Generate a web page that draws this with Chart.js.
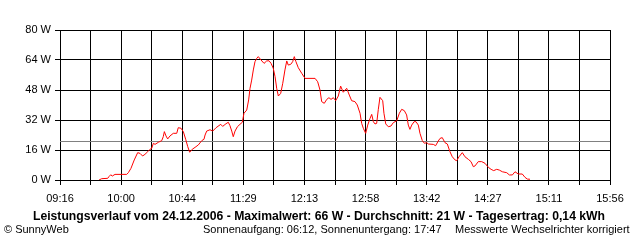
<!DOCTYPE html>
<html><head><meta charset="utf-8">
<script src="https://cdn.jsdelivr.net/npm/chart.js@4"></script>
<style>
html,body{margin:0;padding:0;background:#fff;}
#wrap{position:relative;width:640px;height:240px;overflow:hidden;}
canvas{position:absolute;left:0;top:0;}
.t{position:absolute;white-space:nowrap;font-family:"Liberation Sans",Arial,sans-serif;color:#000;}
#title{left:0;width:638px;text-align:center;top:209px;font-size:12.2px;font-weight:bold;}
#copy{left:4px;top:223px;font-size:11px;}
#sun{left:203px;top:223px;font-size:11px;}
#mess{left:455px;top:223px;font-size:11px;}
</style></head>
<body><div id="wrap"><canvas id="c" width="640" height="240"></canvas>
<div class="t" id="title">Leistungsverlauf vom 24.12.2006 - Maximalwert: 66 W - Durchschnitt: 21 W - Tagesertrag: 0,14 kWh</div>
<div class="t" id="copy">© SunnyWeb</div>
<div class="t" id="sun">Sonnenaufgang: 06:12, Sonnenuntergang: 17:47</div>
<div class="t" id="mess">Messwerte Wechselrichter korrigiert</div>
</div>
<script>
// time in minutes after midnight
const times = [584.4,586.3,590.7,591.6,592.9,594.0,596.0,604.5,605.7,607.6,610.0,612.5,614.2,616.1,617.8,619.8,621.5,622.7,623.9,625.1,627.5,630.0,631.1,631.9,633.1,634.3,636.0,638.4,640.9,642.0,644.0,645.7,647.4,648.9,650.3,652.2,654.2,656.6,659.1,660.7,661.5,
662.7,665.1,667.1,669.5,672.9,674.3,676.7,678.4,679.6,680.9,682.0,683.3,685.0,686.9,688.6,689.8,691.8,693.2,694.2,695.4,696.6,697.8,699.1,700.2,702.2,704.4,706.3,708.0,709.5,711.1,712.4,713.6,714.8,716.5,718.0,719.6,720.9,722.0,723.8,725.2,726.4,727.6,729.3,731.8,734.2,
737.1,741.5,743.4,745.1,746.3,748.2,750.0,751.6,753.1,754.8,756.5,758.4,760.1,762.0,764.5,766.4,768.1,770.5,772.2,774.2,775.4,776.6,778.3,779.8,781.5,782.7,783.9,785.1,786.3,787.5,788.7,790.7,791.6,792.9,794.8,796.7,798.4,800.9,802.8,804.5,806.4,808.1,809.3,810.5,811.8,813.5,814.9,816.6,
817.8,819.5,821.0,822.7,823.9,827.5,829.2,831.1,832.4,834.0,836.0,837.7,839.6,841.3,843.3,844.5,846.2,848.6,850.5,853.0,854.9,856.6,857.8,860.2,862.7,865.1,867.5,869.5,871.4,873.6,875.5,877.7,880.9,882.8,885.0,886.9,889.3,892.2,894.2,895.9,897.8];
const watts = [0,0.7,0.9,1.8,2.8,2.1,3.0,3.0,3.9,6.2,10.7,14.6,14.2,12.8,13.7,15.1,16.4,16.9,19.6,19.0,20.1,21.0,23.1,25.8,23.5,21.9,23.5,24.9,24.9,27.9,27.6,25.8,21.7,17.8,14.8,16.4,17.4,18.7,21.0,21.7,24.0,
26.1,26.8,26.1,27.9,29.7,28.6,30.0,30.8,29.0,26.1,23.1,26.1,28.4,29.7,30.8,35.6,37.3,42.7,48.9,53.3,58.7,63.1,64.9,65.8,64.0,62.2,63.5,63.6,62.2,59.6,55.1,48.9,44.8,46.2,51.6,58.7,63.5,61.3,61.7,63.1,65.8,63.1,59.9,56.9,54.2,
54.2,54.2,52.4,48.0,41.8,40.9,43.0,43.9,43.0,43.9,42.3,44.8,50.1,46.8,48.9,45.3,42.3,41.8,40.0,35.6,30.2,27.6,24.9,29.3,32.9,35.0,31.1,29.9,30.2,37.7,44.1,42.3,35.6,29.9,28.4,28.8,30.6,31.6,35.6,37.7,37.0,34.7,29.3,27.0,29.3,31.1,31.1,29.3,
24.9,21.0,19.6,19.9,19.2,19.0,18.3,20.8,22.2,22.6,19.9,19.2,15.1,12.4,10.7,10.3,12.4,14.6,12.4,11.0,9.8,7.1,7.5,9.8,9.8,8.9,6.8,5.7,5.0,5.7,5.3,4.4,3.9,2.7,2.7,4.4,3.2,3.2,1.4,0.5,0.4];
const average = 21;
const xMin = 556, xMax = 956;
const xTickLabels = ['09:16','10:00','10:44','11:29','12:13','12:58','13:42','14:27','15:11','15:56'];
const yTickValues = [0,16,32,48,64,80];

const power = times.map((t,i)=>({x:t,y:watts[i]}));

// average line drawn through the y scale, snapped to a crisp pixel row
const avgPlugin = {
  id:'avgLine',
  beforeDatasetsDraw(chart){
    const {ctx, chartArea:a, scales:{y}} = chart;
    const py = Math.round(y.getPixelForValue(average)) + 0.5;
    ctx.save();
    ctx.strokeStyle = '#808080'; ctx.lineWidth = 1;
    ctx.beginPath(); ctx.moveTo(a.left, py); ctx.lineTo(a.right, py); ctx.stroke();
    ctx.restore();
  }
};

new Chart(document.getElementById('c'), {
  type:'line',
  data:{datasets:[
    {data:power,borderColor:'#ff0000',borderWidth:1,pointRadius:0,tension:0}
  ]},
  plugins:[avgPlugin],
  options:{
    responsive:false,animation:false,
    plugins:{legend:{display:false},tooltip:{enabled:false}},
    layout:{padding:{top:30,right:30,left:0,bottom:0}},
    scales:{
      x:{type:'linear',min:xMin,max:xMax,
        afterBuildTicks:(s)=>{const n=(xTickLabels.length-1)*2;s.ticks=[];for(let i=0;i<=n;i++)s.ticks.push({value:xMin+(xMax-xMin)*i/n});},
        afterFit:(s)=>{s.height=60;},
        grid:{color:'#000',lineWidth:1,tickLength:5,drawTicks:true},
        border:{color:'#000',width:1},
        ticks:{autoSkip:false,maxRotation:0,padding:7,color:'#000',font:{family:'Liberation Sans',size:11},
          callback:(v,i)=> i%2===0 ? xTickLabels[i/2] : ''}
      },
      y:{min:0,max:80,
        afterBuildTicks:(s)=>{s.ticks=yTickValues.map(v=>({value:v}));},
        afterFit:(s)=>{s.width=60;},
        grid:{color:'#000',lineWidth:1,tickLength:5},
        border:{color:'#000',width:1},
        ticks:{padding:4,color:'#000',font:{family:'Liberation Sans',size:11},callback:(v)=>v+' W'}
      }
    }
  }
});
</script></body></html>
